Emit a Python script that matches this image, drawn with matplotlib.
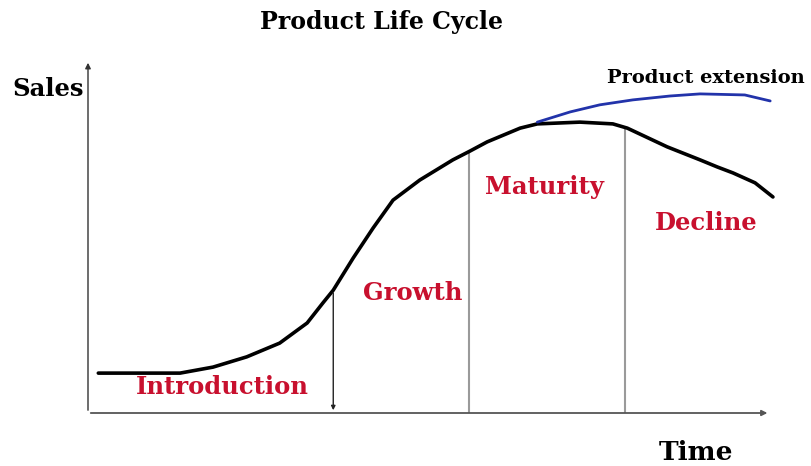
import matplotlib
matplotlib.use("Agg")
import matplotlib.pyplot as plt
import numpy as np

# Main sales curve (time %, sales %)
time_main = [1.5, 7.6, 13.4, 18.2, 23.1, 27.9, 31.9, 34.2, 35.7, 38.6, 41.5, 44.4,
             48.3, 53.1, 55.6, 58.1, 62.9, 65.4, 71.6, 76.4, 78.5, 84.3, 89.1,
             91.6, 93.9, 97.1, 99.7]
sales_main = [11.3, 11.3, 11.3, 13.0, 15.9, 19.8, 25.5, 31.2, 34.8, 43.9, 52.4, 60.3,
              66.0, 71.7, 74.2, 76.8, 80.7, 81.9, 82.4, 81.9, 80.7, 75.4, 71.7,
              69.7, 68.0, 65.2, 61.2]

# Product extension curve
time_ext = [65.4, 70.2, 74.5, 79.3, 84.7, 89.1, 95.6, 99.3]
sales_ext = [82.4, 85.3, 87.3, 88.7, 89.8, 90.4, 90.1, 88.4]

# Phase boundaries and labels
boundaries = [35.7, 55.5, 78.2]
stages = ["Introduction", "Growth", "Maturity", "Decline"]
stage_x = [19.6, 47.2, 66.4, 90.0]
stage_y = [7.4, 34.0, 64.0, 53.8]

W, H = 811, 466
fig = plt.figure(figsize=(W / 100, H / 100), dpi=100)
left, right, bottom, top = 88, 775, 413, 60
ax = fig.add_axes([left / W, 1 - bottom / H, (right - left) / W, (bottom - top) / H])
ax.set_xlim(0, 100)
ax.set_ylim(0, 100)
ax.axis("off")

serif = ["DejaVu Serif"]
red = "#c8102e"

# axes arrows
ax.annotate("", xy=(0, 1.0), xytext=(0, 0), xycoords="axes fraction",
            arrowprops=dict(arrowstyle="-|>", color="#333333", lw=1.0, mutation_scale=8))
ax.annotate("", xy=(99.3, 0), xytext=(0, 0), xycoords="data",
            arrowprops=dict(arrowstyle="-|>", color="#555555", lw=1.3, mutation_scale=8))

# phase boundaries
tops = np.interp(boundaries, time_main, sales_main)
ax.annotate("", xy=(boundaries[0], 0), xytext=(boundaries[0], tops[0]),
            arrowprops=dict(arrowstyle="-|>", color="#222222", lw=1.0, mutation_scale=6))
for b, t in zip(boundaries[1:], tops[1:]):
    ax.plot([b, b], [0, t], color="#9a9a9a", lw=1.5)

ax.plot(time_main, sales_main, color="black", lw=2.6, solid_capstyle="round", solid_joinstyle="round")
ax.plot(time_ext, sales_ext, color="#2233aa", lw=2.0, solid_capstyle="round", solid_joinstyle="round")

for s, x, y in zip(stages, stage_x, stage_y):
    ax.text(x, y, s, ha="center", va="center", color=red, fontsize=17.5,
            fontweight="bold", family=serif)

ax.text(90.0, 94.9, "Product extension", ha="center", va="center", fontsize=14,
        fontweight="bold", family=serif)

fig.text(381 / W, 1 - 22 / H, "Product Life Cycle", ha="center", va="center",
         fontsize=17, fontweight="bold", family=serif)
fig.text(12 / W, 1 - 89 / H, "Sales", ha="left", va="center",
         fontsize=17.5, fontweight="bold", family=serif)
fig.text(696 / W, 1 - 452 / H, "Time", ha="center", va="center",
         fontsize=19, fontweight="bold", family=serif)

fig.savefig("out.png", dpi=100, facecolor="white")
